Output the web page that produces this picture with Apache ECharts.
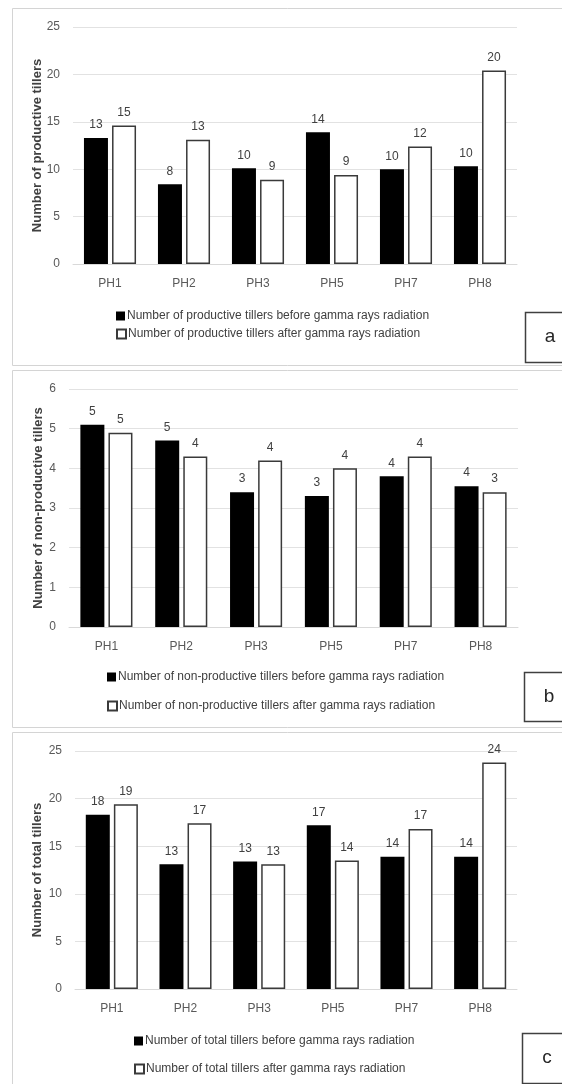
<!DOCTYPE html>
<html>
<head>
<meta charset="utf-8">
<script src="https://cdn.jsdelivr.net/npm/echarts@6/dist/echarts.min.js"></script>
<style>
  html, body { margin: 0; padding: 0; background: #ffffff; }
  #chart { width: 562px; height: 1084px; }
</style>
</head>
<body>
<div id="chart"></div>
<script>
// Genotypes on the x axis
const categories = ['PH1', 'PH2', 'PH3', 'PH5', 'PH7', 'PH8'];

// (a) productive tillers
const productiveBefore = [13.3, 8.4, 10.1, 13.9, 10.0, 10.3];
const productiveAfter = [14.6, 13.1, 8.9, 9.4, 12.4, 20.4];

// (b) non-productive tillers
const nonProductiveBefore = [5.1, 4.7, 3.4, 3.3, 3.8, 3.55];
const nonProductiveAfter = [4.9, 4.3, 4.2, 4.0, 4.3, 3.4];

// (c) total tillers
const totalBefore = [18.3, 13.1, 13.4, 17.2, 13.9, 13.9];
const totalAfter = [19.4, 17.4, 13.1, 13.5, 16.8, 23.8];

const yTicksA = { min: 0, max: 25, interval: 5 };
const yTicksB = { min: 0, max: 6, interval: 1 };
const yTicksC = { min: 0, max: 25, interval: 5 };

const panels = [
  {
    letter: 'a',
    axisName: 'Number of productive tillers',
    before: productiveBefore, after: productiveAfter,
    beforeName: 'Number of productive tillers before gamma rays radiation',
    afterName: 'Number of productive tillers after gamma rays radiation',
    ticks: yTicksA,
    grid: { left: 73, top: 27, width: 444, height: 237 },
    nameGap: 29,
    legendLeft: 116, legendTops: [310, 328],
    frame: { x: 12, y: 8, h: 357 },
    box: { x: 525, y: 312, h: 50 }
  },
  {
    letter: 'b',
    axisName: 'Number of non-productive tillers',
    before: nonProductiveBefore, after: nonProductiveAfter,
    beforeName: 'Number of non-productive tillers before gamma rays radiation',
    afterName: 'Number of non-productive tillers after gamma rays radiation',
    ticks: yTicksB,
    grid: { left: 69, top: 389, width: 449, height: 238 },
    nameGap: 24,
    legendLeft: 107, legendTops: [671, 700],
    frame: { x: 12, y: 370, h: 357 },
    box: { x: 524, y: 672, h: 49 }
  },
  {
    letter: 'c',
    axisName: 'Number of total tillers',
    before: totalBefore, after: totalAfter,
    beforeName: 'Number of total tillers before gamma rays radiation',
    afterName: 'Number of total tillers after gamma rays radiation',
    ticks: yTicksC,
    grid: { left: 75, top: 751, width: 442, height: 238 },
    nameGap: 31,
    legendLeft: 134, legendTops: [1035, 1063],
    frame: { x: 12, y: 732, h: 400 },
    box: { x: 522, y: 1033, h: 50 }
  }
];

const textColor = '#404040';
const font = 'Liberation Sans, Arial, sans-serif';

const grids = [], xAxes = [], yAxes = [], series = [], legends = [], graphics = [];

panels.forEach((p, i) => {
  grids.push(Object.assign({ containLabel: false }, p.grid));

  xAxes.push({
    type: 'category', gridIndex: i, data: categories,
    axisTick: { show: false },
    axisLine: { lineStyle: { color: '#d9d9d9', width: 1 } },
    axisLabel: { color: '#595959', fontSize: 12, fontFamily: font, margin: 14 }
  });

  yAxes.push({
    type: 'value', gridIndex: i,
    min: p.ticks.min, max: p.ticks.max, interval: p.ticks.interval,
    name: p.axisName, nameLocation: 'middle', nameGap: p.nameGap,
    nameMoveOverlap: false,
    nameTextStyle: { color: textColor, fontSize: 13, fontWeight: 'bold', fontFamily: font },
    axisLine: { show: false }, axisTick: { show: false },
    axisLabel: { color: '#595959', fontSize: 12, fontFamily: font, margin: 13 },
    splitLine: { lineStyle: { color: '#e2e2e2', width: 1 } }
  });

  const label = {
    show: true, position: 'top', distance: 7,
    color: textColor, fontSize: 12, fontFamily: font,
    formatter: (d) => String(Math.round(d.value))
  };

  series.push({
    type: 'bar', name: p.beforeName, xAxisIndex: i, yAxisIndex: i,
    data: p.before, barWidth: 24, barGap: '17%',
    itemStyle: { color: '#000000' },
    label: label
  });
  series.push({
    type: 'bar', name: p.afterName, xAxisIndex: i, yAxisIndex: i,
    data: p.after, barWidth: 24, barGap: '17%',
    itemStyle: { color: '#ffffff', borderColor: '#3a3a3a', borderWidth: 1.5 },
    label: label
  });

  [p.beforeName, p.afterName].forEach((nm, k) => {
    legends.push({
      data: [nm], left: p.legendLeft, top: p.legendTops[k],
      icon: 'rect', itemWidth: 9, itemHeight: 9, itemGap: 0,
      selectedMode: false,
      textStyle: { color: textColor, fontSize: 12, fontFamily: font, padding: [0, 0, 0, -3] },
      padding: 0
    });
  });

  // light frame around each panel
  graphics.push({
    type: 'rect', silent: true, z: -1,
    shape: { x: p.frame.x + 0.5, y: p.frame.y + 0.5, width: 600, height: p.frame.h },
    style: { fill: '#ffffff', stroke: '#d4d4d4', lineWidth: 1 }
  });
  // panel letter box
  graphics.push({
    type: 'rect', silent: true, z: 10,
    shape: { x: p.box.x + 0.5, y: p.box.y + 0.5, width: 80, height: p.box.h },
    style: { fill: '#ffffff', stroke: '#404040', lineWidth: 1.5 }
  });
  graphics.push({
    type: 'text', silent: true, z: 11,
    x: p.box.x + 25, y: p.box.y + p.box.h / 2,
    style: { text: p.letter, fill: '#262626', fontSize: 19, fontFamily: font, align: 'center', verticalAlign: 'middle' }
  });
});

const chart = echarts.init(document.getElementById('chart'), null, { renderer: 'canvas' });
chart.setOption({
  animation: false,
  backgroundColor: '#ffffff',
  grid: grids,
  xAxis: xAxes,
  yAxis: yAxes,
  legend: legends,
  series: series,
  graphic: { elements: graphics }
});
</script>
</body>
</html>
